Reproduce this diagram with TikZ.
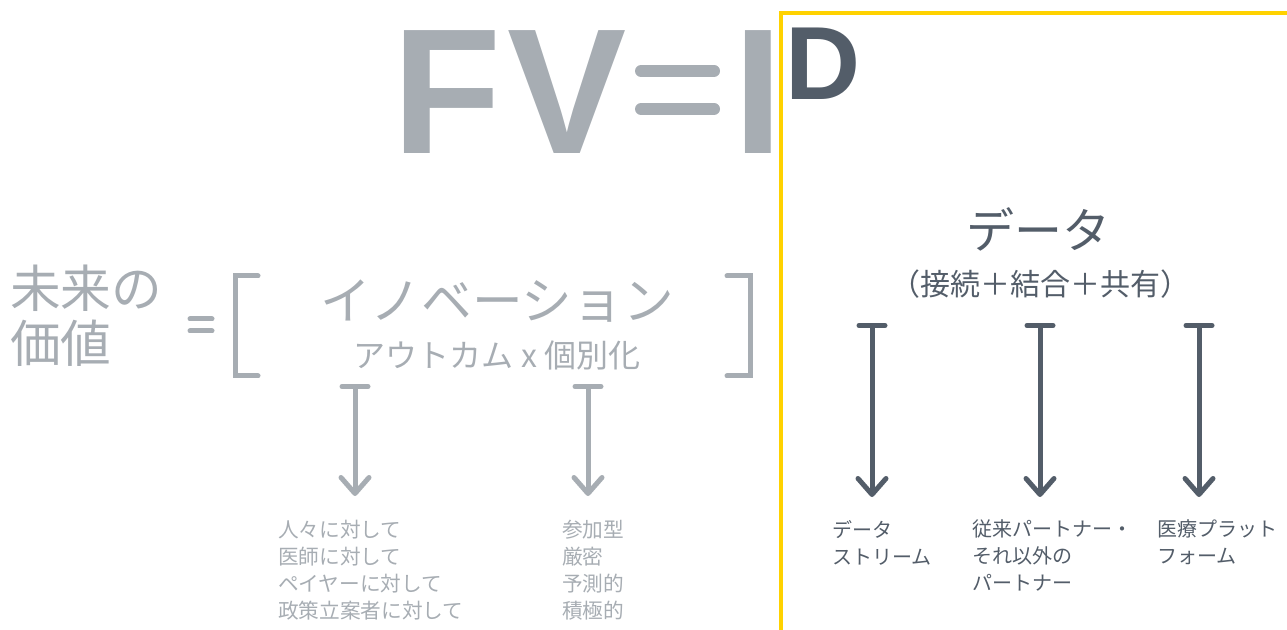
\documentclass[tikz,border=0pt]{standalone}
\usepackage{fontspec}
\setmainfont{Liberation Sans}
\newfontfamily\jp{Noto Sans CJK JP}
\usetikzlibrary{arrows.meta}
\definecolor{lgray}{HTML}{A7ADB3}
\definecolor{dgray}{HTML}{535D69}
\definecolor{ey}{HTML}{FFD200}
\begin{document}
\begin{tikzpicture}[x=0.75pt,y=-0.75pt,
  every node/.style={inner sep=0pt,outer sep=0pt},
  big/.style={font=\fontsize{134}{134}\selectfont\bfseries,text=lgray,anchor=base west},
  jpt/.style={font=\jp\fontsize{#1}{#1}\selectfont},
  lst/.style={font=\jp\fontsize{15}{20.25}\selectfont,align=left,anchor=north west},
  arr/.style={line width=3.75pt,{Bar[width=19.5pt,round]}-{Straight Barb[length=12pt,width=21pt,round]}},
  bar/.style={line width=3.75pt,line cap=round}
]
\useasboundingbox (0,0) rectangle (1287,630);
% yellow frame
\coordinate (ya) at (781,632);
\coordinate (yb) at (781,13);
\coordinate (yc) at (1290,13);
\draw[ey,line width=3pt] (ya) -- (yb) -- (yc);
% title
\node[big] (F) at (392,154) {F};
\node[big] (V) at (507,154) {V};
\node[big] (I) at (733,154) {I};
\node[font=\fontsize{78}{78}\selectfont\bfseries,text=dgray,anchor=base west] (D) at (785,100) {D};
\draw[lgray,line width=9pt,line cap=round] (641,71) -- (714,71) (641,109) -- (714,109);
% left side
\node[jpt=38,text=lgray,anchor=base west] (fv1) at (10,308) {未来の};
\node[jpt=38,text=lgray,anchor=base west] (fv2) at (10,363) {価値};
\draw[bar,lgray] (190,319) -- (212,319) (190,331) -- (212,331);
\draw[lgray,line width=3.75pt,line cap=round] (258,276) -- (235,276) -- (235,376) -- (258,376);
\draw[lgray,line width=3.75pt,line cap=round] (727,276) -- (750,276) -- (750,376) -- (727,376);
\node[jpt=38,text=lgray,anchor=base] (inno) at (497,320) {イノベーション};
\node[jpt=24,text=lgray,anchor=base] (outc) at (497,368) {アウトカム x 個別化};
% gray arrows
\coordinate (a1s) at (355,384); \coordinate (a1e) at (355,496);
\coordinate (a2s) at (588,384); \coordinate (a2e) at (588,496);
\draw[arr,lgray] (a1s) -- (a1e);
\draw[arr,lgray] (a2s) -- (a2e);
\node[lst,text=lgray,font=\jp\fontsize{15.5}{20.25}\selectfont] (l1) at (278,520) {人々に対して\\医師に対して\\ペイヤーに対して\\政策立案者に対して};
\node[lst,text=lgray,font=\jp\fontsize{15.5}{20.25}\selectfont] (l2) at (562,520) {参加型\\厳密\\予測的\\積極的};
% right side
\node[jpt=36,text=dgray,anchor=base] (data) at (1038,249) {データ};
\node[jpt=22.5,text=dgray,anchor=base] (sub) at (1040,296) {（接続＋結合＋共有）};
\coordinate (b1s) at (872,323); \coordinate (b1e) at (872,497);
\coordinate (b2s) at (1040,323); \coordinate (b2e) at (1040,497);
\coordinate (b3s) at (1199,323); \coordinate (b3e) at (1199,497);
\draw[arr,dgray] (b1s) -- (b1e);
\draw[arr,dgray] (b2s) -- (b2e);
\draw[arr,dgray] (b3s) -- (b3e);
\node[lst,text=dgray] (r1) at (832,520) {データ\\ストリーム};
\node[lst,text=dgray] (r2) at (972,520) {従来パートナー・\\それ以外の\\パートナー};
\node[lst,text=dgray] (r3) at (1157,520) {医療プラット\\フォーム};
\end{tikzpicture}
\end{document}
